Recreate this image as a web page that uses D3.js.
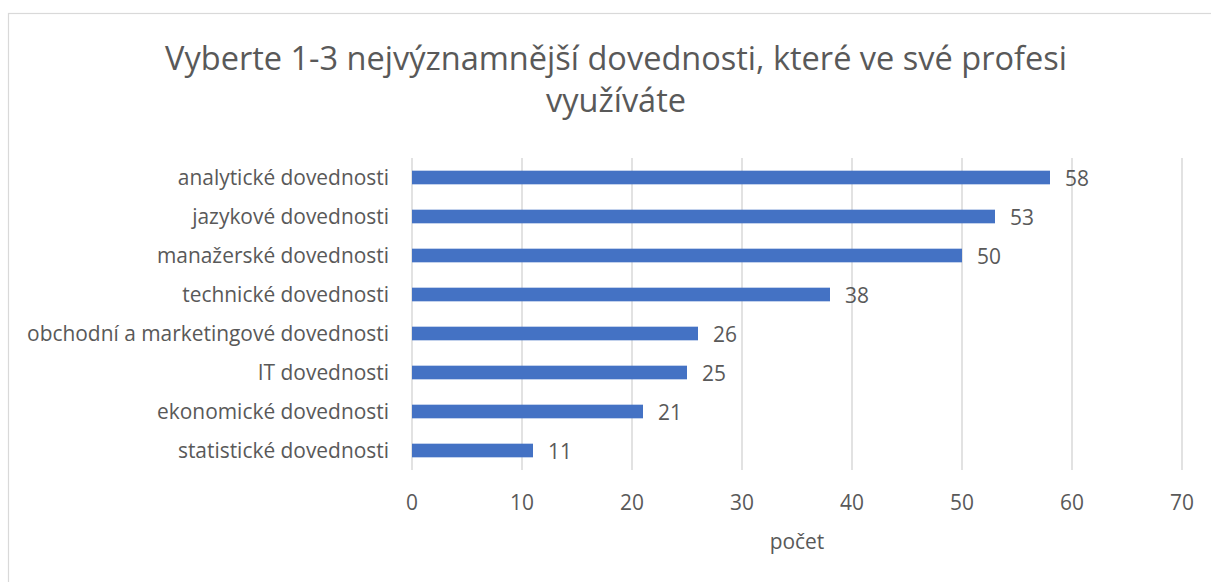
<!DOCTYPE html>
<html><head><meta charset="utf-8">
<script src="https://cdn.jsdelivr.net/npm/d3@7"></script>
<style>body{margin:0;background:#fff}svg{display:block}text{font-family:"Open Sans",sans-serif;fill:#595959}</style>
</head><body>
<script>
const categories = ["analytické dovednosti","jazykové dovednosti","manažerské dovednosti","technické dovednosti","obchodní a marketingové dovednosti","IT dovednosti","ekonomické dovednosti","statistické dovednosti"];
const values = [58,53,50,38,26,25,21,11];
const xTicks = [0,10,20,30,40,50,60,70];
const titleLines = ["Vyberte 1-3 nejvýznamnější dovednosti, které ve své profesi","využíváte"];
const xTitle = "počet";

const W=1211,H=582;
const svg=d3.select("body").append("svg").attr("width",W).attr("height",H);
svg.append("rect").attr("x",8.5).attr("y",13.5).attr("width",1220).attr("height",600).attr("fill","#fff").attr("stroke","#d9d9d9").attr("stroke-width",1.2);

const x=d3.scaleLinear().domain([0,70]).range([412,1182]);
const y=d3.scaleBand().domain(categories).range([158,470]).paddingInner(0.65).paddingOuter(0.325);

// title
const t=svg.append("g");
titleLines.forEach((l,i)=>{
  t.append("text").attr("x",616).attr("y",70+i*42).attr("text-anchor","middle").attr("font-size",30).text(l);
});
const n=t.select("text").node(); const w=n.getComputedTextLength();
const fs=30*902/w; t.selectAll("text").attr("font-size",fs);

// gridlines
svg.append("g").selectAll("line").data(xTicks).join("line")
 .attr("x1",d=>x(d)).attr("x2",d=>x(d)).attr("y1",158).attr("y2",470)
 .attr("stroke","#d9d9d9").attr("stroke-width",1.5);

// bars
svg.append("g").selectAll("rect").data(values).join("rect")
 .attr("x",x(0)).attr("y",(d,i)=>y(categories[i])).attr("width",d=>x(d)-x(0)).attr("height",y.bandwidth())
 .attr("fill","#4472C4");

// category labels
const cl=svg.append("g").selectAll("text").data(categories).join("text")
 .attr("x",389).attr("y",d=>y(d)+y.bandwidth()/2).attr("dy","0.35em").attr("text-anchor","end")
 .attr("font-size",17).text(d=>d);
const cw=cl.filter((d,i)=>i===4).node().getComputedTextLength();
const cfs=17*362/cw; cl.attr("font-size",cfs);

// value labels
svg.append("g").selectAll("text").data(values).join("text")
 .attr("x",d=>x(d)+15).attr("y",(d,i)=>y(categories[i])+y.bandwidth()/2+1).attr("dy","0.35em")
 .attr("font-size",cfs).text(d=>d);

// x axis tick labels
svg.append("g").selectAll("text").data(xTicks).join("text")
 .attr("x",d=>x(d)).attr("y",503).attr("dy","0.35em").attr("text-anchor","middle").attr("font-size",cfs).text(d=>d);
svg.append("text").attr("x",797).attr("y",542).attr("dy","0.35em").attr("text-anchor","middle").attr("font-size",cfs).text(xTitle);
</script>
</body></html>
